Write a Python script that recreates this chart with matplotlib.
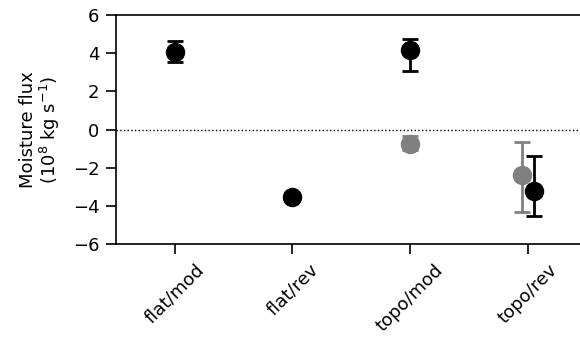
import matplotlib
import matplotlib.pyplot as plt
import numpy as np

matplotlib.use("Agg")

categories = ["flat/mod", "flat/rev", "topo/mod", "topo/rev"]

# black series (drawn on top)
black_vals = [4.05, -3.55, 4.15, -3.2]
black_err_lo = [0.5, 0.15, 1.1, 1.35]
black_err_hi = [0.6, 0.15, 0.6, 1.8]
black_shift = [0.0, 0.0, 0.0, 0.05]

# grey series
grey_vals = [np.nan, np.nan, -0.75, -2.4]
grey_err_lo = [0.0, 0.0, 0.3, 1.9]
grey_err_hi = [0.0, 0.0, 0.4, 1.75]
grey_shift = [0.0, 0.0, 0.0, -0.05]

plt.rcParams["font.size"] = 13

fig = plt.figure(figsize=(5.8, 3.42), dpi=100)
ax = fig.add_axes([0.2, 0.2865, 0.8114, 0.6696])

x = np.arange(len(categories))

ax.axhline(0, color="black", linestyle=":", linewidth=1, zorder=1)

ax.errorbar(x + np.array(grey_shift), grey_vals, yerr=[grey_err_lo, grey_err_hi],
            fmt="o", color="gray", markersize=13, elinewidth=2, capsize=6,
            capthick=2, zorder=2)
ax.errorbar(x + np.array(black_shift), black_vals, yerr=[black_err_lo, black_err_hi],
            fmt="o", color="black", markersize=13, elinewidth=2, capsize=6,
            capthick=2, zorder=3)

ax.set_xlim(-0.5, 3.5)
ax.set_ylim(-6, 6)
ax.set_yticks([-6, -4, -2, 0, 2, 4, 6])
ax.set_xticks(x)
ax.set_xticklabels(categories, rotation=45)
ax.set_ylabel("Moisture flux\n(10$^8$ kg s$^{-1}$)", linespacing=1.0, labelpad=8)

for side in ["left", "top", "bottom", "right"]:
    ax.spines[side].set_linewidth(1.2)
ax.tick_params(length=7, width=1.2, pad=5)

fig.savefig("out.png", dpi=100)
